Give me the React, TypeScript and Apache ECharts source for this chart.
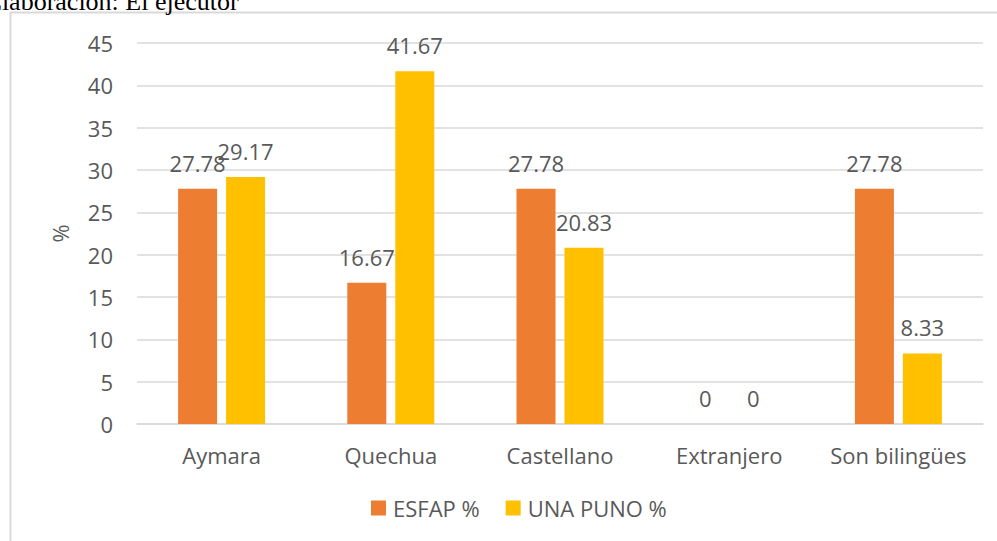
import React, { useEffect, useRef } from "react";
import * as echarts from "echarts";

const categories = ["Aymara", "Quechua", "Castellano", "Extranjero", "Son bilingües"];
const esfap = [27.78, 16.67, 27.78, 0, 27.78];
const unaPuno = [29.17, 41.67, 20.83, 0, 8.33];
const seriesNames = ["ESFAP %", "UNA PUNO %"];
const yTicks = { min: 0, max: 45, interval: 5 };
const captionText = "Elaboración: El ejecutor";

export default function App() {
  const ref = useRef<HTMLDivElement>(null);
  useEffect(() => {
    if (!ref.current) return;
    const chart = echarts.init(ref.current, null, { renderer: "svg" });
    const font = "'Open Sans', sans-serif";
    const labelStyle = {
      show: true,
      position: "top",
      distance: 15,
      color: "#595959",
      fontSize: 22,
      fontFamily: font,
      formatter: (p: any) => String(p.value),
    };
    chart.setOption({
      animation: false,
      backgroundColor: "#ffffff",
      textStyle: { fontFamily: font },
      graphic: [
        {
          type: "rect",
          shape: { x: 10.5, y: 12.5, width: 1200, height: 800 },
          style: { fill: "none", stroke: "#d9d9d9", lineWidth: 2 },
          silent: true,
          z: -10,
        },
        {
          type: "text",
          x: -14,
          y: 14,
          style: {
            text: captionText,
            fill: "#000000",
            verticalAlign: "bottom",
            font: "26px 'Liberation Serif', 'Times New Roman', serif",
          },
        },
      ],
      legend: {
        data: seriesNames,
        top: 497,
        left: 371,
        padding: 0,
        itemWidth: 15,
        itemHeight: 15,
        itemGap: 26,
        icon: "rect",
        textStyle: { color: "#595959", fontSize: 22, fontFamily: font, padding: [0, 0, 0, 2] },
      },
      grid: { left: 137, right: 14, top: 43, bottom: 117 },
      xAxis: {
        type: "category",
        data: categories,
        axisTick: { show: false },
        axisLine: { lineStyle: { color: "#d9d9d9", width: 1.5 } },
        axisLabel: { color: "#595959", fontSize: 22, fontFamily: font, margin: 20, interval: 0 },
      },
      yAxis: {
        type: "value",
        min: yTicks.min,
        max: yTicks.max,
        interval: yTicks.interval,
        name: "%",
        nameLocation: "middle",
        nameGap: 66,
        nameRotate: 90,
        nameTextStyle: { color: "#595959", fontSize: 22, fontFamily: font },
        axisLine: { show: false },
        axisTick: { show: false },
        axisLabel: { color: "#595959", fontSize: 22, fontFamily: font, margin: 24 },
        splitLine: { lineStyle: { color: "#d9d9d9", width: 1.5 } },
      },
      series: [
        {
          name: seriesNames[0],
          type: "bar",
          data: esfap,
          barWidth: 39,
          barGap: "23%",
          itemStyle: { color: "#ed7d31" },
          label: labelStyle,
        },
        {
          name: seriesNames[1],
          type: "bar",
          data: unaPuno,
          barWidth: 39,
          itemStyle: { color: "#ffc000" },
          label: labelStyle,
        },
      ],
    });
    return () => chart.dispose();
  }, []);
  return (
    <div
      ref={ref}
      style={{ position: "absolute", left: 0, top: 0, width: 997, height: 541 }}
    />
  );
}
